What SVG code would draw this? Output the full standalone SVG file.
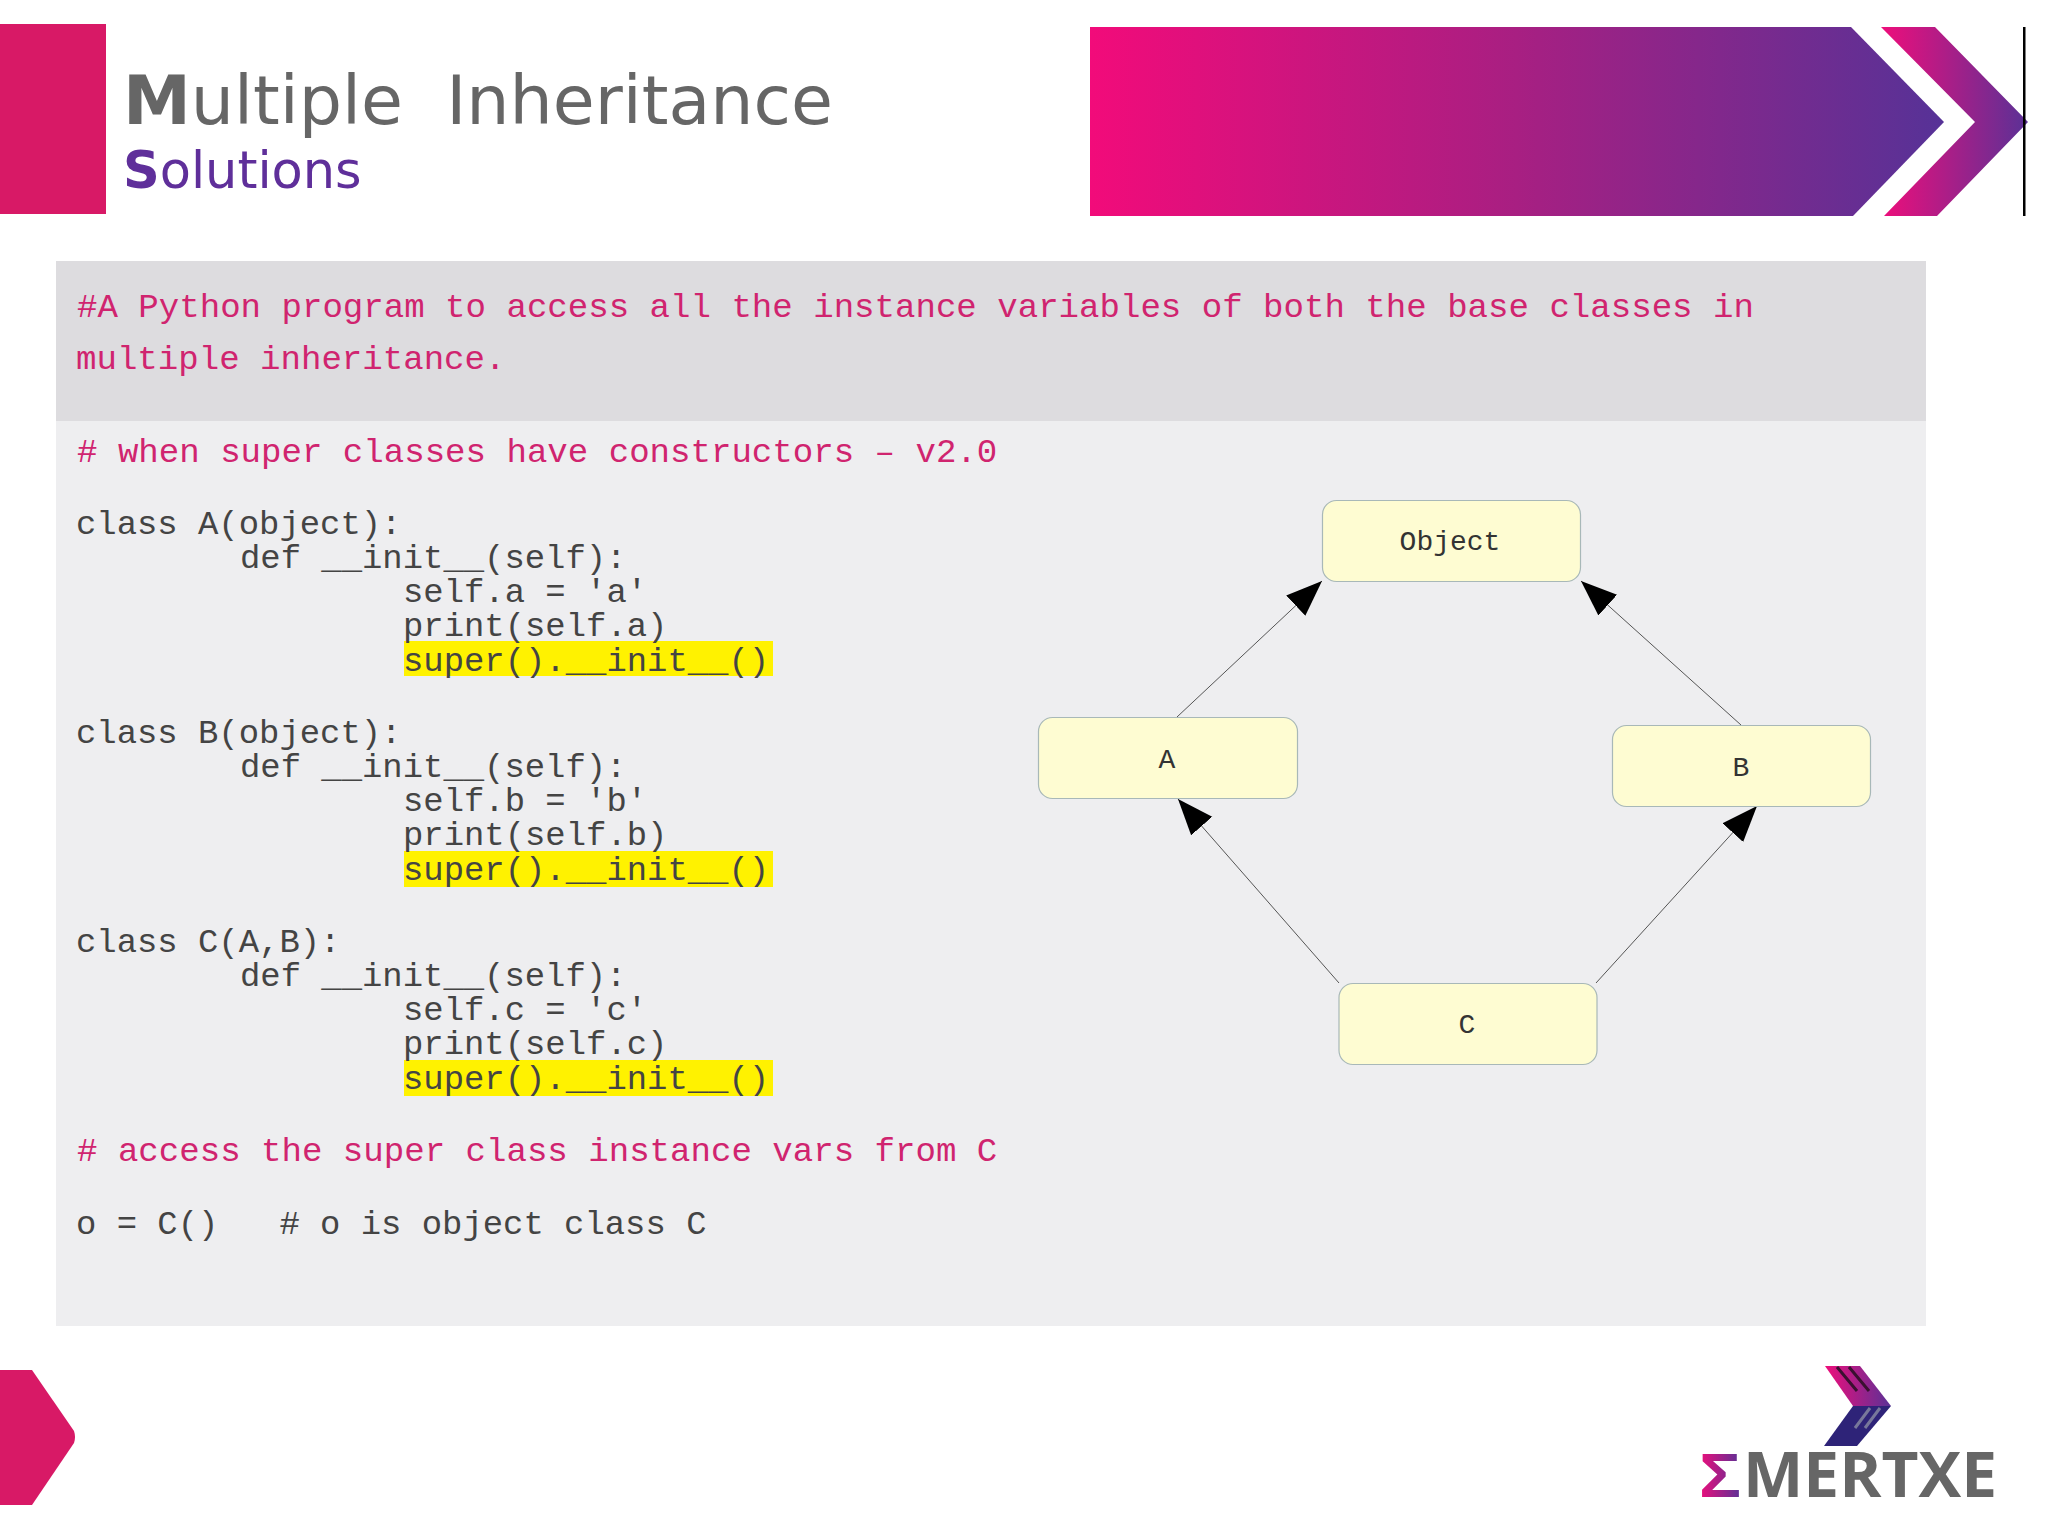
<svg xmlns="http://www.w3.org/2000/svg" width="2048" height="1536" viewBox="0 0 2048 1536">
<defs>
<linearGradient id="gBig" x1="0" y1="0" x2="1" y2="0"><stop offset="0" stop-color="#f20b7a"/><stop offset="0.5" stop-color="#a81f82"/><stop offset="1" stop-color="#563297"/></linearGradient>
<linearGradient id="gChev" x1="0" y1="0" x2="1" y2="0"><stop offset="0" stop-color="#ee0e7b"/><stop offset="1" stop-color="#5a3196"/></linearGradient>
<marker id="arrow" markerUnits="userSpaceOnUse" markerWidth="38" markerHeight="30" refX="36" refY="14" orient="auto"><path d="M0,0 L36,14 L0,28 Z" fill="#000"/></marker>
</defs>
<style>
.code{font-family:"Liberation Mono",monospace;font-size:33.9px;fill:#444}
.com{font-size:34.1px;fill:#d0246f}
.node rect{fill:#fefcd2;stroke:#a8b8b8;stroke-width:1.2}
.node text{font-family:"Liberation Mono",monospace;font-size:28px;fill:#333;text-anchor:middle}
.hl{fill:#fff200}
.edge{stroke:#555;stroke-width:1;fill:none;marker-end:url(#arrow)}
</style>
<rect width="2048" height="1536" fill="#fff"/>
<g id="header">
<rect x="0" y="24" width="106" height="190" fill="#d81966"/>
<text x="123" y="124" font-family="DejaVu Sans,sans-serif" font-size="68.2" fill="#666" xml:space="preserve"><tspan font-weight="bold">M</tspan>ultiple  Inheritance</text>
<text x="123" y="188" font-family="DejaVu Sans,sans-serif" font-size="51" fill="#5f2f9a"><tspan font-weight="bold">S</tspan>olutions</text>
<path d="M1090,27 H1851 L1944,122 L1853,216 H1090 Z" fill="url(#gBig)"/>
<path d="M1881,27 H1935 L2028,122 L1937,216 H1884 L1975,122 Z" fill="url(#gChev)"/>
<rect x="2023" y="27" width="2.5" height="189" fill="#000"/>
</g>
<g id="panel">
<rect x="56" y="261" width="1870" height="1065" fill="#eeeef0"/>
<rect x="56" y="261" width="1870" height="160" fill="#dddcdf"/>
<rect class="hl" x="404" y="641" width="369" height="35"/>
<rect class="hl" x="404" y="851" width="369" height="36"/>
<rect class="hl" x="404" y="1060" width="369" height="36"/>
</g>
<g id="code" class="code">
<text class="code com" x="77" y="317">#A Python program to access all the instance variables of both the base classes in</text>
<text class="code com" x="76" y="369">multiple inheritance.</text>
<text class="code com" x="77" y="462"># when super classes have constructors – v2.0</text>
<text class="code" x="76" y="534">class A(object):</text>
<text class="code" x="240" y="568">def __init__(self):</text>
<text class="code" x="403" y="602">self.a = 'a'</text>
<text class="code" x="403" y="636">print(self.a)</text>
<text class="code" x="403" y="671">super().__init__()</text>
<text class="code" x="76" y="743">class B(object):</text>
<text class="code" x="240" y="777">def __init__(self):</text>
<text class="code" x="403" y="811">self.b = 'b'</text>
<text class="code" x="403" y="845">print(self.b)</text>
<text class="code" x="403" y="880">super().__init__()</text>
<text class="code" x="76" y="952">class C(A,B):</text>
<text class="code" x="240" y="986">def __init__(self):</text>
<text class="code" x="403" y="1020">self.c = 'c'</text>
<text class="code" x="403" y="1054">print(self.c)</text>
<text class="code" x="403" y="1089">super().__init__()</text>
<text class="code com" x="77" y="1161"># access the super class instance vars from C</text>
<text class="code" x="76" y="1234" xml:space="preserve">o = C()   # o is object class C</text>
</g>
<g id="connectors">
<line class="edge" x1="1177" y1="717" x2="1322" y2="581"/>
<line class="edge" x1="1741" y1="725" x2="1581" y2="581"/>
<line class="edge" x1="1339" y1="983" x2="1178" y2="799"/>
<line class="edge" x1="1596" y1="983" x2="1757" y2="806"/>
</g>
<g id="node-object" class="node"><rect x="1322.5" y="500.5" width="258" height="81" rx="14"/><text x="1450" y="550">Object</text></g>
<g id="node-a" class="node"><rect x="1038.5" y="717.5" width="259" height="81" rx="14"/><text x="1167" y="768">A</text></g>
<g id="node-b" class="node"><rect x="1612.5" y="725.5" width="258" height="81" rx="14"/><text x="1741" y="776">B</text></g>
<g id="node-c" class="node"><rect x="1339" y="983.5" width="258" height="81" rx="14"/><text x="1467" y="1033">C</text></g>
<g id="footer">
<path d="M0,1370 H32 L74,1431 Q76,1437 74,1443 L32,1505 H0 Z" fill="#d81966"/>
<path d="M1825,1366 H1860 L1891,1406 H1853 Z" fill="url(#gChev)"/>
<path d="M1853,1406 H1891 L1857,1446 H1824 Z" fill="#2e2378"/>
<path d="M1837,1367 L1857,1391 M1849,1367 L1869,1391" stroke="#3a1030" stroke-width="3" fill="none"/>
<path d="M1855,1428 L1870,1408 M1865,1428 L1880,1408" stroke="#77779a" stroke-width="3" fill="none"/>
<text x="1699" y="1497" font-family="Liberation Sans,sans-serif" font-weight="bold" font-size="63" fill="url(#gChev)" textLength="42" lengthAdjust="spacingAndGlyphs">Σ</text>
<text x="1743" y="1497" font-family="Open Sans,sans-serif" font-weight="700" font-size="63" fill="#666" textLength="254" lengthAdjust="spacingAndGlyphs">MERTXE</text>
</g>
</svg>
